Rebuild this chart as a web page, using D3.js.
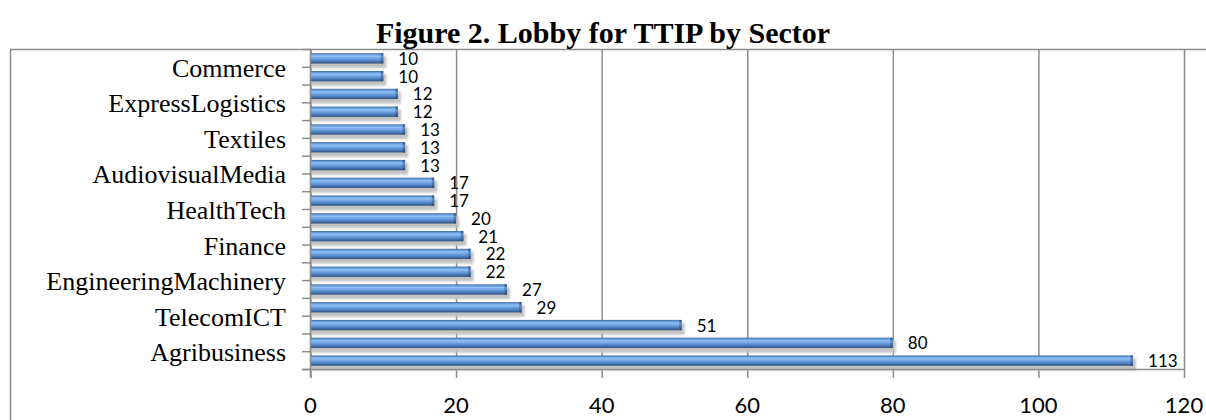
<!DOCTYPE html>
<html>
<head>
<meta charset="utf-8">
<script src="https://cdn.jsdelivr.net/npm/d3@7"></script>
<style>
  html, body { margin: 0; padding: 0; background: #fff; }
  svg { display: block; }
</style>
</head>
<body>
<div id="chart"></div>
<script>
// Lobby meetings per sector, listed from the bottom bar upwards
const lobbyCounts = [113, 80, 51, 29, 27, 22, 22, 21, 20, 17, 17, 13, 13, 13, 12, 12, 10, 10];
// One sector name per pair of bars, bottom pair first
const sectorLabels = ["Agribusiness", "TelecomICT", "EngineeringMachinery", "Finance",
  "HealthTech", "AudiovisualMedia", "Textiles", "ExpressLogistics", "Commerce"];
const xTicks = [0, 20, 40, 60, 80, 100, 120];
const chartTitle = "Figure 2. Lobby for TTIP by Sector";

const W = 1206, H = 420;
const plot = { left: 310.5, right: 1184, top: 49.5, bottom: 369.5 };

const svg = d3.select("#chart").append("svg")
  .attr("width", W).attr("height", H);

const defs = svg.append("defs");
const grad = defs.append("linearGradient")
  .attr("id", "barFill").attr("x1", 0).attr("y1", 0).attr("x2", 0).attr("y2", 1);
[[0, "#3a6293"], [0.12, "#6198d8"], [0.3, "#8fc0f4"], [0.5, "#6fa5e6"],
 [0.72, "#5284c4"], [1, "#2f5180"]].forEach(([o, c]) =>
  grad.append("stop").attr("offset", o).attr("stop-color", c));

const capGrad = defs.append("linearGradient")
  .attr("id", "capFill").attr("x1", 0).attr("y1", 0).attr("x2", 0).attr("y2", 1);
[[0, "#2c4a75"], [0.35, "#5f8fcc"], [1, "#2a4670"]].forEach(([o, c]) =>
  capGrad.append("stop").attr("offset", o).attr("stop-color", c));

defs.append("filter").attr("id", "soft")
  .attr("x", "-5%").attr("y", "-50%").attr("width", "110%").attr("height", "200%")
  .append("feGaussianBlur").attr("stdDeviation", 1.0);

// Outer chart frame (runs off the right and bottom edges)
svg.append("rect")
  .attr("x", 10.5).attr("y", plot.top)
  .attr("width", W + 20).attr("height", H)
  .attr("fill", "none").attr("stroke", "#8c8c8c").attr("stroke-width", 1.5);

// Title
svg.append("text")
  .attr("x", 603).attr("y", 42.5)
  .attr("text-anchor", "middle")
  .style("font-family", "'Liberation Serif', 'Times New Roman', serif")
  .style("font-weight", "bold")
  .style("font-size", "30px")
  .text(chartTitle);

const x = d3.scaleLinear().domain([0, 120]).range([plot.left, plot.right]);
const y = d3.scaleBand()
  .domain(d3.range(lobbyCounts.length))
  .range([plot.bottom, plot.top])
  .paddingInner(0.42).paddingOuter(0.21);
const step = y.step();

// Vertical gridlines with ticks hanging below the axis
const xAxis = d3.axisBottom(x).tickValues(xTicks)
  .tickSize(-(plot.bottom - plot.top)).tickSizeOuter(0).tickFormat("");
const gx = svg.append("g")
  .attr("transform", `translate(0,${plot.bottom})`)
  .call(xAxis);
gx.select(".domain").remove();
gx.selectAll(".tick line").attr("stroke", "#8c8c8c").attr("stroke-width", 1.5)
  .attr("y1", 8.5);

// Tick labels
svg.append("g").selectAll("text").data(xTicks).join("text")
  .attr("x", d => x(d)).attr("y", 413)
  .attr("text-anchor", "middle")
  .style("font-family", "Lato, 'Open Sans', sans-serif")
  .style("font-size", "22px")
  .text(d => d);

// Bar shadows
const rows = lobbyCounts.map((v, i) => ({ v, i }));
svg.append("g").attr("filter", "url(#soft)")
  .selectAll("rect").data(rows).join("rect")
  .attr("x", x(0))
  .attr("y", d => y(d.i) + 3)
  .attr("width", d => x(d.v) - x(0) + 3)
  .attr("height", y.bandwidth() + 1.5)
  .attr("fill", "#c2c2c2");

// Bars
const bars = svg.append("g").selectAll("g").data(rows).join("g");
bars.append("rect")
  .attr("x", x(0))
  .attr("y", d => y(d.i))
  .attr("width", d => x(d.v) - x(0))
  .attr("height", y.bandwidth())
  .attr("fill", "url(#barFill)");
bars.append("rect")
  .attr("x", d => x(d.v) - 2.5)
  .attr("y", d => y(d.i))
  .attr("width", 2.5)
  .attr("height", y.bandwidth())
  .attr("rx", 1.2)
  .attr("fill", "url(#capFill)");

// Category axis line and ticks at every band boundary
const yAxisG = svg.append("g");
yAxisG.append("line")
  .attr("x1", plot.left).attr("x2", plot.left)
  .attr("y1", plot.top).attr("y2", plot.bottom + 8.5)
  .attr("stroke", "#8c8c8c").attr("stroke-width", 1.5);
yAxisG.selectAll("line.tk").data(d3.range(lobbyCounts.length + 1)).join("line")
  .attr("class", "tk")
  .attr("x1", plot.left - 8.5).attr("x2", plot.left)
  .attr("y1", k => plot.bottom - k * step).attr("y2", k => plot.bottom - k * step)
  .attr("stroke", "#8c8c8c").attr("stroke-width", 1.5);
// Value axis baseline
svg.append("line")
  .attr("x1", plot.left - 8.5).attr("x2", plot.right)
  .attr("y1", plot.bottom).attr("y2", plot.bottom)
  .attr("stroke", "#8c8c8c").attr("stroke-width", 1.5);

// Sector names, each centred on the boundary between its two bars
svg.append("g").selectAll("text").data(sectorLabels).join("text")
  .attr("x", 286)
  .attr("y", (d, k) => plot.bottom - (2 * k + 1) * step + 9.5)
  .attr("text-anchor", "end")
  .style("font-family", "'Liberation Serif', 'Times New Roman', serif")
  .style("font-size", "26px")
  .text(d => d);

// Value labels
svg.append("g").selectAll("text").data(rows).join("text")
  .attr("x", d => x(d.v) + 15)
  .attr("y", d => y(d.i) + y.bandwidth() / 2 + 6.5)
  .style("font-family", "Lato, 'Open Sans', sans-serif")
  .style("font-size", "17px")
  .text(d => d.v);
</script>
</body>
</html>
